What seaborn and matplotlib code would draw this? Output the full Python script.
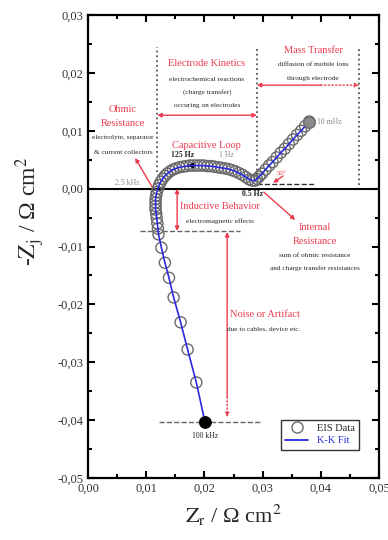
import matplotlib
matplotlib.use("Agg")
import matplotlib.pyplot as plt
import seaborn as sns
from matplotlib.lines import Line2D
from matplotlib.ticker import MultipleLocator, FuncFormatter

# EIS data, low frequency (10 mHz) -> high frequency (100 kHz)
zr_diffusion = [0.0380, 0.0373, 0.0366, 0.0359, 0.0352, 0.0345, 0.0338, 0.0331,
                0.0324, 0.0317, 0.0311, 0.0305, 0.0299, 0.0294, 0.0290, 0.0287]
zj_diffusion = [0.0116, 0.0108, 0.0100, 0.0093, 0.0085, 0.0077, 0.0069, 0.0062,
                0.0054, 0.0046, 0.0040, 0.0033, 0.0026, 0.0021, 0.0017, 0.0014]

zr_loop = [0.0282, 0.0277, 0.0271, 0.0265, 0.0259, 0.0253, 0.0247, 0.0241,
           0.0235, 0.0229, 0.0223, 0.0217, 0.0211, 0.0205, 0.0199, 0.0193,
           0.0187, 0.0181, 0.0175, 0.0169, 0.0163, 0.0157, 0.0151]
zj_loop = [0.0014, 0.0016, 0.0020, 0.0024, 0.0027, 0.0030, 0.0032, 0.0034,
           0.0035, 0.0036, 0.0037, 0.0038, 0.0039, 0.0039, 0.0040, 0.0040,
           0.0040, 0.0040, 0.0040, 0.0039, 0.0038, 0.0037, 0.0035]

zr_bend = [0.0146, 0.0141, 0.0136, 0.0132, 0.0128, 0.0125, 0.0122, 0.0120,
           0.0118, 0.0117, 0.0116, 0.0116, 0.0116, 0.0116, 0.0117, 0.0118, 0.0119]
zj_bend = [0.0033, 0.0030, 0.0026, 0.0022, 0.0017, 0.0012, 0.0006, 0.0000,
           -0.0006, -0.0012, -0.0018, -0.0024, -0.0030, -0.0036, -0.0043, -0.0051, -0.0060]

zr_tail = [0.0120, 0.0121, 0.0126, 0.0132, 0.0139, 0.0147, 0.0159, 0.0171, 0.0186, 0.0201]
zj_tail = [-0.0069, -0.0079, -0.0102, -0.0128, -0.0154, -0.0188, -0.0231, -0.0278, -0.0335, -0.0404]

zr_data = zr_diffusion + zr_loop + zr_bend + zr_tail
zj_data = zj_diffusion + zj_loop + zj_bend + zj_tail

# K-K fit follows the measured points
zr_fit = zr_data
zj_fit = zj_data

RED = "#ec3b4e"
BLUE = "#2a2ae0"
GREY = "#6a6a6a"

sns.set_theme(style="ticks")
plt.rcParams["font.family"] = ["Liberation Serif", "DejaVu Serif"]
plt.rcParams["mathtext.fontset"] = "stix"

fig, ax = plt.subplots(figsize=(3.88, 5.40), dpi=100)
fig.subplots_adjust(left=0.227, right=0.977, top=0.972, bottom=0.115)

ax.axhline(0, color="black", lw=1.5, zorder=1)

# data circles (hollow) + fit line
sns.scatterplot(x=zr_data, y=zj_data, ax=ax, s=64, color=GREY, linewidth=1.0, zorder=3)
pts = ax.collections[-1]
pts.set_facecolor("none")
pts.set_edgecolor(GREY)
sns.lineplot(x=zr_fit, y=zj_fit, ax=ax, sort=False, estimator=None,
             color=BLUE, lw=1.2, zorder=4)

# end points
sns.scatterplot(x=[zr_data[0]], y=[zj_data[0]], ax=ax, s=70, color="#8a8a8a",
                edgecolor=GREY, linewidth=1.0, zorder=5)
sns.scatterplot(x=[zr_data[-1]], y=[zj_data[-1]], ax=ax, s=70, color="black",
                edgecolor="black", zorder=5)

# region separators
ax.vlines(0.0119, 0.0028, 0.0245, colors="#555555", linestyles=":", lw=1.3)
ax.vlines(0.0290, 0.0015, 0.0245, colors="#555555", linestyles=":", lw=1.3)
ax.vlines(0.0466, 0.0006, 0.0245, colors="#555555", linestyles=":", lw=1.3)
ax.hlines(-0.0073, 0.0089, 0.0261, colors="#666666", linestyles="--", lw=1.0)
ax.hlines(-0.0404, 0.0122, 0.0296, colors="#666666", linestyles="--", lw=1.0)
ax.hlines(0.0008, 0.0290, 0.0388, colors="#333333", linestyles="--", lw=1.0)

arr = dict(color=RED, lw=1.0, shrinkA=0, shrinkB=0, mutation_scale=6)
ax.annotate("", xy=(0.0119, 0.0127), xytext=(0.0290, 0.0127),
            arrowprops=dict(arrowstyle="<|-|>", **arr))
ax.annotate("", xy=(0.0290, 0.0179), xytext=(0.0400, 0.0179),
            arrowprops=dict(arrowstyle="-|>", **arr))
ax.annotate("", xy=(0.0466, 0.0179), xytext=(0.0400, 0.0179),
            arrowprops=dict(arrowstyle="-|>", ls=":", **arr))
ax.annotate("", xy=(0.0153, 0.0), xytext=(0.0153, -0.0073),
            arrowprops=dict(arrowstyle="<|-|>", **arr))
ax.annotate("", xy=(0.0239, -0.0075), xytext=(0.0239, -0.0360),
            arrowprops=dict(arrowstyle="-|>", **arr))
ax.annotate("", xy=(0.0239, -0.0395), xytext=(0.0239, -0.0360),
            arrowprops=dict(arrowstyle="-|>", ls=":", **arr))
ax.annotate("", xy=(0.0081, 0.0053), xytext=(0.0110, 0.0003),
            arrowprops=dict(arrowstyle="-|>", **arr))
ax.annotate("", xy=(0.0356, -0.0054), xytext=(0.0302, -0.0006),
            arrowprops=dict(arrowstyle="-|>", **arr))
ax.annotate("", xy=(0.0318, 0.0010), xytext=(0.0335, 0.0022),
            arrowprops=dict(arrowstyle="-|>", **arr))
ax.annotate("", xy=(0.0166, 0.0040), xytext=(0.0178, 0.0040),
            arrowprops=dict(arrowstyle="-|>", color="black", lw=1.2, mutation_scale=7))

# region titles and notes
hs, ns, fs = 7.5, 5.2, 5.6
ax.text(0.0387, 0.0239, "Mass Transfer", color=RED, fontsize=hs, ha="center", va="center")
ax.text(0.0387, 0.0214, "diffusion of mobile ions", fontsize=ns, ha="center", va="center")
ax.text(0.0387, 0.0191, "through electrode", fontsize=ns, ha="center", va="center")

ax.text(0.0204, 0.0217, "Electrode Kinetics", color=RED, fontsize=hs, ha="center", va="center")
ax.text(0.0204, 0.0189, "electrochemical reactions", fontsize=ns, ha="center", va="center")
ax.text(0.0204, 0.0167, "(charge transfer)", fontsize=ns, ha="center", va="center")
ax.text(0.0204, 0.0143, "occuring on electrodes", fontsize=ns, ha="center", va="center")

ax.text(0.0060, 0.0136, "Ohmic", color=RED, fontsize=hs, ha="center", va="center")
ax.text(0.0060, 0.0113, "Resistance", color=RED, fontsize=hs, ha="center", va="center")
ax.text(0.0060, 0.0089, "electrolyte, separator", fontsize=ns, ha="center", va="center")
ax.text(0.0060, 0.0063, "& current collectors", fontsize=ns, ha="center", va="center")

ax.text(0.0204, 0.0074, "Capacitive Loop", color=RED, fontsize=hs, ha="center", va="center")
ax.text(0.0163, 0.0058, "125 Hz", fontsize=fs, ha="center", va="center", fontweight="bold")
ax.text(0.0237, 0.0058, "1 Hz", fontsize=fs, ha="center", va="center", color="#888888")
ax.text(0.0067, 0.0010, "2.5 kHz", fontsize=fs, ha="center", va="center", color="#888888")
ax.text(0.0282, -0.0009, "0.5 Hz", fontsize=fs, ha="center", va="center", fontweight="bold")
ax.text(0.0393, 0.0115, "10 mHz", fontsize=fs, ha="left", va="center", color="#888888")
ax.text(0.0333, 0.0027, "50°", fontsize=5, ha="center", va="center", color=RED)

ax.text(0.0227, -0.0030, "Inductive Behavior", color=RED, fontsize=hs, ha="center", va="center")
ax.text(0.0227, -0.0056, "electromagnetic effects", fontsize=ns, ha="center", va="center")

ax.text(0.0390, -0.0068, "Internal", color=RED, fontsize=hs, ha="center", va="center")
ax.text(0.0390, -0.0091, "Resistance", color=RED, fontsize=hs, ha="center", va="center")
ax.text(0.0390, -0.0116, "sum of ohmic resistance", fontsize=ns, ha="center", va="center")
ax.text(0.0390, -0.0137, "and charge transfer resistances", fontsize=ns, ha="center", va="center")

ax.text(0.0244, -0.0218, "Noise or Artifact", color=RED, fontsize=hs, ha="left", va="center")
ax.text(0.0239, -0.0243, "due to cables, device etc.", fontsize=ns, ha="left", va="center")
ax.text(0.0201, -0.0427, "100 kHz", fontsize=fs, ha="center", va="center")

# axes
ax.set_xlim(0, 0.05)
ax.set_ylim(-0.05, 0.03)
ax.xaxis.set_major_locator(MultipleLocator(0.01))
ax.xaxis.set_minor_locator(MultipleLocator(0.005))
ax.yaxis.set_major_locator(MultipleLocator(0.01))
ax.yaxis.set_minor_locator(MultipleLocator(0.005))
fmt = FuncFormatter(lambda v, p: ("%.2f" % (0.0 if abs(v) < 1e-9 else v)).replace(".", ","))
ax.xaxis.set_major_formatter(fmt)
ax.yaxis.set_major_formatter(fmt)
ax.tick_params(which="both", direction="in", top=True, right=True, width=1.5, colors="black",
               labelcolor="#333333", labelsize=9)
ax.tick_params(which="major", length=5)
ax.tick_params(which="minor", length=3)
for s in ax.spines.values():
    s.set_linewidth(1.6)
    s.set_color("black")

ax.set_xlabel(r"$\mathrm{Z}_\mathrm{r}$ / Ω cm$^2$", fontsize=16, labelpad=6)
ax.set_ylabel(r"-$\mathrm{Z}_\mathrm{j}$ / Ω cm$^2$", fontsize=17)
ax.yaxis.set_label_coords(-0.14, 0.575)

handles = [Line2D([], [], marker="o", ls="", mfc="none", mec=GREY, ms=8, mew=1.0),
           Line2D([], [], color=BLUE, lw=1.3)]
leg = ax.legend(handles, ["EIS Data", "K-K Fit"], loc="lower right",
                bbox_to_anchor=(0.948, 0.050), fontsize=7.5, frameon=True,
                fancybox=False, edgecolor="black", handlelength=2.2,
                borderpad=0.4, labelspacing=0.3)
leg.get_frame().set_linewidth(1.0)
leg.get_texts()[1].set_color(BLUE)

fig.savefig("out.png", dpi=100)
